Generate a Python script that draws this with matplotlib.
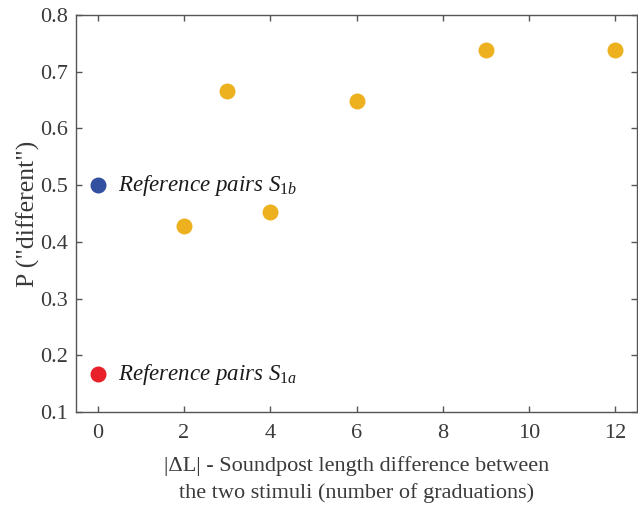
import matplotlib
matplotlib.use("Agg")
import matplotlib.pyplot as plt

# Data
x_vals = [2, 3, 4, 6, 9, 12]
p_vals = [0.428, 0.666, 0.452, 0.649, 0.738, 0.738]
ref_b_x, ref_b_y = 0, 0.5
ref_a_x, ref_a_y = 0, 0.167
ref_b_label = r"Reference pairs $\mathit{S}_{\mathit{1b}}$"
ref_a_label = r"Reference pairs $\mathit{S}_{\mathit{1a}}$"
x_ticks = [0, 2, 4, 6, 8, 10, 12]
y_ticks = [0.1, 0.2, 0.3, 0.4, 0.5, 0.6, 0.7, 0.8]
xlabel = "|\u0394L| - Soundpost length difference between\nthe two stimuli (number of graduations)"
ylabel = 'P ("different")'

plt.rcParams['font.family'] = ['Liberation Serif', 'DejaVu Serif']
plt.rcParams['mathtext.fontset'] = 'custom'
plt.rcParams['mathtext.it'] = 'Liberation Serif:italic'
plt.rcParams['mathtext.rm'] = 'Liberation Serif'

txt_col = '#3a3a3a'
ax_col = '#555555'

fig = plt.figure(figsize=(6.38, 5.07), dpi=100)
ax = fig.add_axes([76/638, 95/507, (637-76)/638, (412-15)/507])

ax.plot(x_vals, p_vals, 'o', color='#EDB120', markersize=11.5, markeredgewidth=0)
ax.plot([ref_b_x], [ref_b_y], 'o', color='#3350A0', markersize=11.5, markeredgewidth=0)
ax.plot([ref_a_x], [ref_a_y], 'o', color='#E8202A', markersize=11.5, markeredgewidth=0)

ax.text(ref_b_x + 0.48, ref_b_y, ref_b_label, fontsize=16.5, style='italic',
        va='center', ha='left', color='#1a1a1a')
ax.text(ref_a_x + 0.48, ref_a_y, ref_a_label, fontsize=16.5, style='italic',
        va='center', ha='left', color='#1a1a1a')

ax.set_xlim(-0.5, 12.5)
ax.set_ylim(0.1, 0.8)
ax.set_xticks(x_ticks)
ax.set_yticks(y_ticks)
ax.set_xticklabels([str(t) for t in x_ticks])
ax.set_yticklabels([f"{t:.1f}" for t in y_ticks])
ax.tick_params(direction='in', length=4, width=1, colors=ax_col, labelcolor=txt_col,
               labelsize=16, top=True, right=True, pad=6)
ax.tick_params(axis='x', pad=9)
for s in ax.spines.values():
    s.set_color(ax_col)
    s.set_linewidth(1)

ax.set_xlabel(xlabel, fontsize=16, color=txt_col, labelpad=9, linespacing=1.5)
ax.set_ylabel(ylabel, fontsize=18.5, color=txt_col, labelpad=0)

fig.savefig("out.png", dpi=100)
